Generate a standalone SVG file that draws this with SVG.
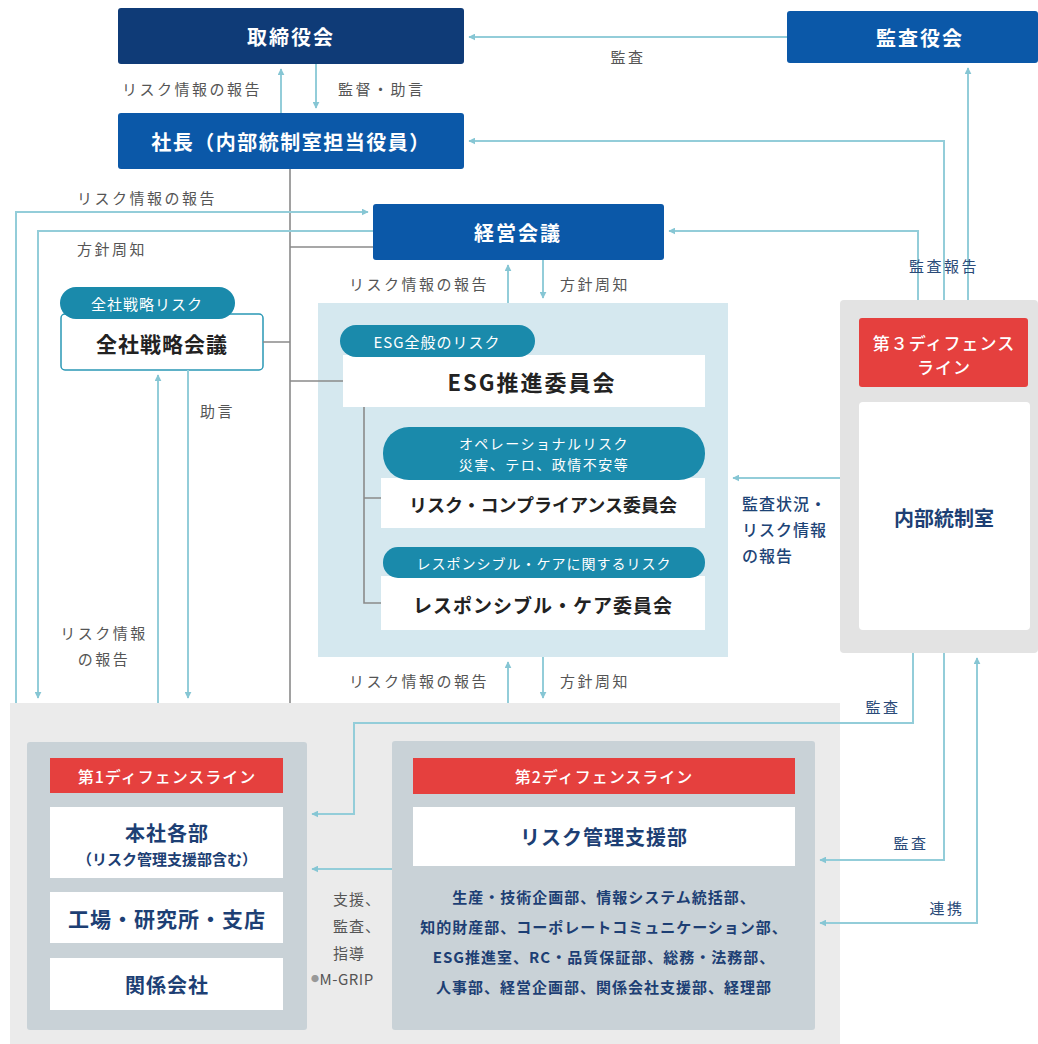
<svg xmlns="http://www.w3.org/2000/svg" width="1038" height="1044" viewBox="0 0 1038 1044">
<defs>
<marker id="ah" viewBox="0 0 10 10" refX="9" refY="5" markerWidth="7" markerHeight="7" markerUnits="userSpaceOnUse" orient="auto-start-reverse"><path d="M0,0 L10,5 L0,10 z" fill="#86c6d4"/></marker>
</defs>
<style>
text{font-family:"Noto Sans CJK JP","Noto Sans",sans-serif;dominant-baseline:central}
.c{fill:none;stroke:#93cdd9;stroke-width:2}
.g{fill:none;stroke:#8a8a8a;stroke-width:1.6}
.lbl{font-size:15px;fill:#555;letter-spacing:2.5px}
.nv{fill:#0b58a8}
.dk{fill:#0f3b77}
.wt{fill:#fff;font-weight:bold;text-anchor:middle;font-size:20px;letter-spacing:2px}
.pill{fill:#1a8aab}
.pt{fill:#fff;text-anchor:middle;font-size:15px;letter-spacing:1px}
.wb{fill:#fff}
.bt{fill:#222;font-weight:bold;text-anchor:middle}
.red{fill:#e5403e}
.rt{fill:#fff;text-anchor:middle;font-size:16px;font-weight:500;letter-spacing:1px}
.nt{fill:#1d3f74;font-weight:bold;text-anchor:middle}
.inner{fill:#c9d2d7}
</style>
<rect width="1038" height="1044" fill="#fff"/>

<g id="torishimariyakukai">
<rect class="dk" x="118" y="8" width="346" height="56" rx="3"/>
<text class="wt" x="291" y="36">取締役会</text>
</g>
<g id="kansayakukai">
<rect class="nv" x="787" y="11" width="251" height="52" rx="3"/>
<text class="wt" x="920" y="37">監査役会</text>
</g>
<g id="shacho">
<rect class="nv" x="118" y="113" width="346" height="56" rx="3"/>
<text class="wt" x="291" y="141" style="letter-spacing:1.5px">社長（内部統制室担当役員）</text>
</g>
<g id="keieikaigi">
<rect class="nv" x="373" y="204" width="291" height="56" rx="3"/>
<text class="wt" x="518" y="232">経営会議</text>
</g>
<g id="zenshasenryaku">
<rect class="wb" x="61" y="314" width="202" height="56" rx="4" stroke="#2a98b5" stroke-width="1.5"/>
<rect class="pill" x="60" y="287" width="175" height="32" rx="16"/>
<text class="pt" x="147" y="303">全社戦略リスク</text>
<text class="bt" x="162" y="343" style="font-size:21px;letter-spacing:1px">全社戦略会議</text>
</g>
<g id="esg">
<rect x="318" y="303" width="410" height="354" fill="#d5e8ef"/>
<rect class="wb" x="343" y="355" width="362" height="52"/>
<rect class="pill" x="340" y="325" width="195" height="32" rx="16"/>
<text class="pt" x="437" y="341">ESG全般のリスク</text>
<text class="bt" x="532" y="381" style="font-size:22px;letter-spacing:2px">ESG推進委員会</text>
<path class="g" d="M364,407 V603 H381 M364,498 H381"/>
<rect class="wb" x="381" y="478" width="324" height="50"/>
<rect class="pill" x="383" y="427" width="322" height="53" rx="26"/>
<text class="pt" x="544" y="443" style="font-size:14px;letter-spacing:1.5px">オペレーショナルリスク</text>
<text class="pt" x="544" y="464" style="font-size:14px;letter-spacing:1.5px">災害、テロ、政情不安等</text>
<text class="bt" x="543" y="504" style="font-size:18px">リスク・コンプライアンス委員会</text>
<rect class="wb" x="381" y="576" width="324" height="54"/>
<rect class="pill" x="383" y="547" width="322" height="31" rx="15"/>
<text class="pt" x="544" y="563" style="font-size:14px">レスポンシブル・ケアに関するリスク</text>
<text class="bt" x="543" y="604" style="font-size:19px;letter-spacing:1px">レスポンシブル・ケア委員会</text>
</g>
<g id="defense3">
<rect x="840" y="300" width="198" height="353" rx="4" fill="#e3e3e3"/>
<rect class="red" x="859" y="318" width="169" height="69" rx="3"/>
<text class="rt" x="944" y="342" style="font-size:17px">第３ディフェンス</text>
<text class="rt" x="944" y="366" style="font-size:17px">ライン</text>
<rect class="wb" x="859" y="402" width="171" height="228" rx="4"/>
<text class="nt" x="944" y="517" style="font-size:20px">内部統制室</text>
</g>
<g id="bottom-area">
<rect x="10" y="703" width="830" height="341" fill="#ebebeb"/>
</g>
<g id="defense1">
<rect class="inner" x="27" y="742" width="280" height="288" rx="3"/>
<rect class="red" x="50" y="758" width="233" height="35"/>
<text class="rt" x="167" y="776">第1ディフェンスライン</text>
<rect class="wb" x="50" y="807" width="233" height="71"/>
<text class="nt" x="167" y="832" style="font-size:20px;letter-spacing:1px">本社各部</text>
<text class="nt" x="167" y="858" style="font-size:15px">（リスク管理支援部含む）</text>
<rect class="wb" x="50" y="892" width="233" height="51"/>
<text class="nt" x="167" y="918" style="font-size:21px;letter-spacing:1px">工場・研究所・支店</text>
<rect class="wb" x="50" y="958" width="233" height="52"/>
<text class="nt" x="167" y="984" style="font-size:20px;letter-spacing:1px">関係会社</text>
</g>
<g id="defense2">
<rect class="inner" x="392" y="741" width="423" height="289" rx="3"/>
<rect class="red" x="413" y="758" width="382" height="36"/>
<text class="rt" x="604" y="776">第2ディフェンスライン</text>
<rect class="wb" x="413" y="807" width="382" height="59"/>
<text class="nt" x="604" y="836" style="font-size:20px;letter-spacing:1px">リスク管理支援部</text>
<text class="nt" x="604" y="896" style="font-size:15px;letter-spacing:1px">生産・技術企画部、情報システム統括部、</text>
<text class="nt" x="604" y="926" style="font-size:15px;letter-spacing:1px">知的財産部、コーポレートコミュニケーション部、</text>
<text class="nt" x="604" y="956" style="font-size:15px;letter-spacing:1px">ESG推進室、RC・品質保証部、総務・法務部、</text>
<text class="nt" x="604" y="986" style="font-size:15px;letter-spacing:1px">人事部、経営企画部、関係会社支援部、経理部</text>
</g>

<g id="connectors">
<path class="c" d="M787,37 H469" marker-end="url(#ah)"/>
<path class="c" d="M281,113 V69" marker-end="url(#ah)"/>
<path class="c" d="M316,64 V108" marker-end="url(#ah)"/>
<path class="c" d="M968,300 V68" marker-end="url(#ah)"/>
<path class="c" d="M944,300 V141 H469" marker-end="url(#ah)"/>
<path class="c" d="M918,300 V231 H669" marker-end="url(#ah)"/>
<path class="g" d="M290,169 V703 M290,247 H373 M263,342 H290 M290,381 H343"/>
<path class="c" d="M16,703 V212 H368" marker-end="url(#ah)"/>
<path class="c" d="M373,231 H38 V698" marker-end="url(#ah)"/>
<path class="c" d="M158,703 V375" marker-end="url(#ah)"/>
<path class="c" d="M188,370 V698" marker-end="url(#ah)"/>
<path class="c" d="M508,303 V265" marker-end="url(#ah)"/>
<path class="c" d="M543,260 V298" marker-end="url(#ah)"/>
<path class="c" d="M508,703 V662" marker-end="url(#ah)"/>
<path class="c" d="M543,657 V698" marker-end="url(#ah)"/>
<path class="c" d="M840,478 H733" marker-end="url(#ah)"/>
<path class="c" d="M913,653 V723 H354 V814 H312" marker-end="url(#ah)"/>
<path class="c" d="M944,653 V860 H820" marker-end="url(#ah)"/>
<path class="c" d="M820,923 H977 V658" marker-start="url(#ah)" marker-end="url(#ah)"/>
<path class="c" d="M392,869 H312" marker-end="url(#ah)"/>
<text class="lbl" x="628" y="56" text-anchor="middle">監査</text>
<text class="lbl" x="122" y="88">リスク情報の報告</text>
<text class="lbl" x="338" y="88">監督・助言</text>
<text class="lbl" x="77" y="197">リスク情報の報告</text>
<text class="lbl" x="77" y="248">方針周知</text>
<text class="lbl" x="349" y="283">リスク情報の報告</text>
<text class="lbl" x="560" y="283">方針周知</text>
<text class="lbl" x="944" y="265" text-anchor="middle" style="fill:#2a4a78">監査報告</text>
<text class="lbl" x="200" y="410">助言</text>
<text class="lbl" x="104" y="632" text-anchor="middle">リスク情報</text>
<text class="lbl" x="104" y="658" text-anchor="middle">の報告</text>
<text class="lbl" x="742" y="503" style="fill:#1d4476;font-weight:500;font-size:16px;letter-spacing:1px">監査状況・</text>
<text class="lbl" x="742" y="529" style="fill:#1d4476;font-weight:500;font-size:16px;letter-spacing:1px">リスク情報</text>
<text class="lbl" x="742" y="555" style="fill:#1d4476;font-weight:500;font-size:16px;letter-spacing:1px">の報告</text>
<text class="lbl" x="349" y="680">リスク情報の報告</text>
<text class="lbl" x="560" y="680">方針周知</text>
<text class="lbl" x="883" y="706" text-anchor="middle" style="fill:#2a4a78">監査</text>
<text class="lbl" x="911" y="842" text-anchor="middle" style="fill:#2a4a78">監査</text>
<text class="lbl" x="947" y="907" text-anchor="middle" style="fill:#2a4a78">連携</text>
<text class="lbl" x="333" y="898" style="letter-spacing:1px">支援、</text>
<text class="lbl" x="333" y="925" style="letter-spacing:1px">監査、</text>
<text class="lbl" x="333" y="952" style="letter-spacing:1px">指導</text>
<text class="lbl" x="311" y="978" style="letter-spacing:0.5px"><tspan style="font-size:8px;fill:#999">●</tspan>M-GRIP</text>
</g>
</svg>
